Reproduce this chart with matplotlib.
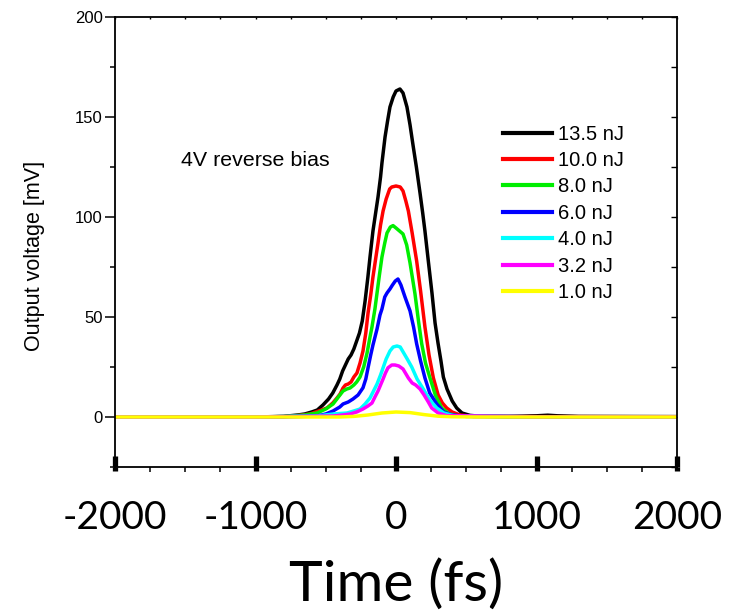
import matplotlib
matplotlib.use("Agg")
import matplotlib.pyplot as plt
from matplotlib.ticker import MultipleLocator

# ---- data ----
labels = ["13.5 nJ", "10.0 nJ", "8.0 nJ", "6.0 nJ", "4.0 nJ", "3.2 nJ", "1.0 nJ"]
colors = ["#000000", "#ff0000", "#00ee00", "#0000ff", "#00ffff", "#ff00ff", "#ffff00"]

t_black = [-2000, -1000, -800, -700, -650, -600, -560, -520, -480, -450, -420, -400, -380, -360, -340, -320,
           -300, -280, -260, -240, -220, -200, -185, -164, -145, -128, -110, -100, -78, -60, -43, -20,
           0, 28, 50, 78, 100, 121, 145, 171, 190, 206, 230, 256, 278, 299, 320, 337, 363, 400, 432,
           470, 527, 600, 800, 1000, 1080, 1150, 1300, 2000]
v_black = [0, 0, 0.3, 1, 1.5, 2.5, 3.5, 6, 9, 12, 16, 19, 23, 26, 29, 31,
           34, 38, 42, 48, 58, 70, 80, 93, 102, 110, 120, 127, 140, 148, 155, 160,
           163, 164, 162, 155, 146, 136, 125, 112, 102, 93, 78, 62, 47, 37, 28, 20, 14, 8, 4.5,
           2, 0.8, 0.4, 0.3, 0.6, 0.9, 0.6, 0.3, 0.2]

t_red = [-2000, -1000, -800, -700, -612, -550, -491, -450, -420, -398, -377, -360, -340, -320, -300, -278,
         -256, -235, -215, -199, -180, -164, -145, -128, -110, -92, -70, -45, -30, 0, 30, 50, 70, 88,
         115, 147, 175, 206, 235, 266, 300, 330, 361, 400, 455, 550, 1000, 2000]
v_red = [0, 0, 0.2, 0.7, 1.5, 3, 4.5, 7, 9.5, 11.5, 14.5, 16, 16.5, 17.5, 20, 22,
         27, 33, 42, 52, 61, 70, 79, 87, 96, 103, 109, 114, 115, 115.5, 115, 113, 108, 103,
         92, 78, 63, 45, 31, 19.5, 11, 7, 4.5, 2.5, 1, 0.3, 0.2, 0.1]

t_green = [-2000, -1000, -800, -650, -562, -500, -448, -410, -377, -350, -327, -300, -280, -256, -230,
           -206, -185, -171, -150, -135, -118, -100, -80, -64, -40, -21, 0, 25, 50, 76, 100, 135, 160,
           183, 210, 242, 280, 325, 380, 450, 1000, 2000]
v_green = [0, 0, 0.2, 1, 2, 4, 6.5, 10, 13, 14, 14.5, 16, 17.5, 20, 25,
           32, 40, 45, 54, 62, 71, 80, 87, 92, 95, 95.7, 94.5, 93, 91.5, 86, 77, 61.6, 48,
           36.6, 27, 19.5, 11, 4.5, 1.5, 0.5, 0.1, 0.1]

t_blue = [-2000, -1000, -800, -562, -500, -448, -400, -377, -340, -306, -270, -235, -215, -199, -180,
          -164, -135, -114, -100, -80, -64, -43, -25, -5, 14, 35, 64, 100, 125, 147, 175, 206, 240,
          290, 340, 400, 500, 1000, 2000]
v_blue = [0, 0, 0.1, 0.5, 1.5, 3, 5, 6.5, 7.5, 9, 11, 14.6, 19, 24.6, 31,
          36, 44, 51, 54, 60, 62, 64, 66, 68, 69, 66, 60, 53, 45, 36.6, 28, 19.5, 12,
          6.5, 2.5, 1, 0.3, 0.1, 0.1]

t_cyan = [-2000, -1000, -560, -448, -349, -300, -256, -220, -185, -160, -135, -110, -92, -70, -43,
          -20, 7, 30, 55, 80, 112, 150, 194, 240, 290, 340, 420, 1000, 2000]
v_cyan = [0, 0, 0.5, 1.5, 2, 3, 4, 6.5, 9.5, 13, 16.5, 21, 24.6, 29, 33,
          35, 35.5, 35, 32, 29, 25, 19, 14, 8.5, 4.5, 2, 0.5, 0.1, 0.1]

t_magenta = [-2000, -1000, -448, -380, -327, -280, -235, -200, -171, -150, -128, -110, -92, -75, -57,
             -30, -7, 20, 50, 88, 115, 140, 171, 200, 230, 254, 300, 360, 1000, 2000]
v_magenta = [0, 0, 0.5, 1, 1.5, 2.5, 4, 5.5, 7, 10, 13, 16, 19, 22, 24.6,
             26, 26, 25.5, 24, 19.5, 17, 16, 14, 11, 7.5, 4.5, 2, 0.7, 0.1, 0.1]

t_yellow = [-2000, -1000, -600, -400, -300, -200, -100, 0, 100, 200, 300, 400, 600, 1000, 2000]
v_yellow = [0, 0, 0, 0, 0.3, 1.0, 2.0, 2.5, 2.2, 1.2, 0.4, 0.1, 0, 0, 0]

series_t = [t_black, t_red, t_green, t_blue, t_cyan, t_magenta, t_yellow]
series_v = [v_black, v_red, v_green, v_blue, v_cyan, v_magenta, v_yellow]

x_ticks = [-2000, -1000, 0, 1000, 2000]
y_ticks = [0, 50, 100, 150, 200]

# ---- figure ----
fig = plt.figure(figsize=(7.47, 6.14), dpi=100)
ax = fig.add_axes([115 / 747, 1 - 467 / 614, (677 - 115) / 747, (467 - 17) / 614])

for t, v, c, lab in zip(series_t, series_v, colors, labels):
    ax.plot(t, v, color=c, lw=2.5, label=lab, solid_joinstyle="round")

ax.set_xlim(-2000, 2000)
ax.set_ylim(-25, 200)

for s in ax.spines.values():
    s.set_linewidth(1.3)

# y axis
ax.set_yticks(y_ticks)
ax.yaxis.set_minor_locator(MultipleLocator(25))
ax.tick_params(axis="y", which="major", direction="out", length=7, width=1.1,
               labelsize=12, right=False, pad=2)
ax.tick_params(axis="y", which="minor", direction="out", length=3.5, width=1.1, right=False)
for lab in ax.get_yticklabels():
    lab.set_fontfamily("Liberation Sans")

# right spine ticks (inward)
ry = ax.secondary_yaxis("right")
ry.set_yticks(y_ticks)
ry.yaxis.set_minor_locator(MultipleLocator(25))
ry.tick_params(which="both", direction="in", length=4, width=1.0, labelright=False)
ry.spines["right"].set_visible(False)

# top spine tiny ticks
tx = ax.secondary_xaxis("top")
tx.set_xticks(x_ticks)
tx.xaxis.set_minor_locator(MultipleLocator(250))
tx.tick_params(which="both", direction="in", length=1.5, width=1.0, labeltop=False)
tx.spines["top"].set_visible(False)

# x axis: thick major ticks inside, minor outside
ax.set_xticks(x_ticks)
ax.xaxis.set_minor_locator(MultipleLocator(250))
ax.tick_params(axis="x", which="major", direction="in", length=8, width=3.8, top=False,
               labelsize=28, pad=24)
ax.tick_params(axis="x", which="minor", direction="out", length=3.5, width=1.1, top=False)
ax.set_xticklabels([str(v) for v in x_ticks], fontfamily="Lato")

bx = ax.secondary_xaxis("bottom")
bx.set_xticks(x_ticks)
bx.tick_params(which="major", direction="out", length=3, width=3.8, labelbottom=False)
bx.spines["bottom"].set_visible(False)

ax.set_xlabel("Time (fs)", fontsize=41, fontfamily="Lato", labelpad=16)
ax.set_ylabel("Output voltage [mV]", fontsize=15.5, fontfamily="Liberation Sans")
ax.yaxis.set_label_coords(-0.125, 0.469)

ax.text(-1530, 128, "4V reverse bias", fontsize=15.4, fontfamily="Liberation Sans",
        va="center", ha="left")

leg = ax.legend(loc="upper left", bbox_to_anchor=(0.690, 0.761), frameon=False,
                prop={"family": "Liberation Sans", "size": 14.5},
                handlelength=2.45, handletextpad=0.3, labelspacing=0.37, borderpad=0,
                borderaxespad=0)
for h in leg.get_lines():
    h.set_linewidth(3)

fig.savefig("out.png", dpi=100)
